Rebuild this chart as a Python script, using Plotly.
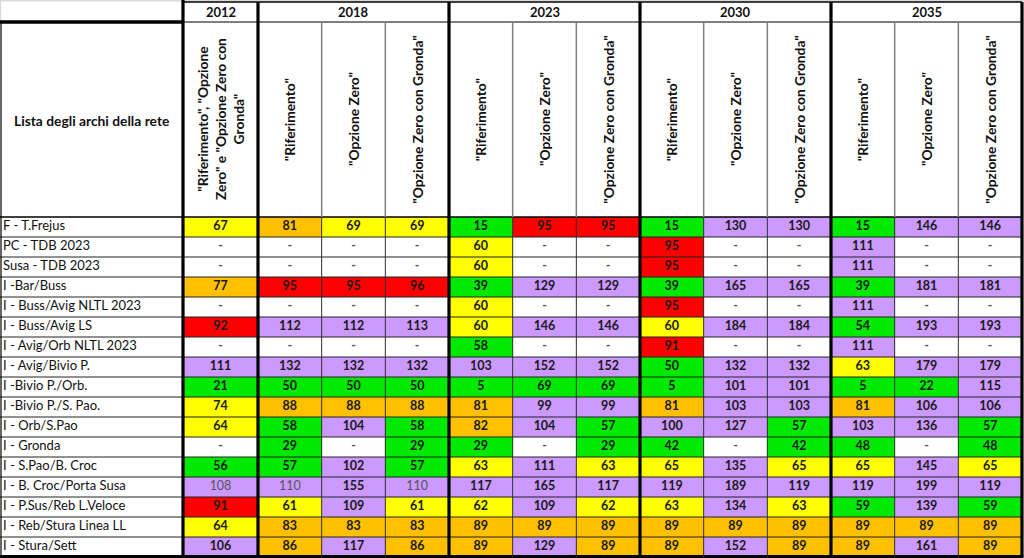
import plotly.graph_objects as go

# ---------------- data ----------------
years = ["2012", "2018", "2023", "2030", "2035"]
year_cols = [1, 3, 3, 3, 3]
sub_headers = [
    '"Riferimento", "Opzione<br>Zero" e "Opzione Zero con<br>Gronda"',
    '"Riferimento"', '"Opzione Zero"', '"Opzione Zero con Gronda"',
    '"Riferimento"', '"Opzione Zero"', '"Opzione Zero con Gronda"',
    '"Riferimento"', '"Opzione Zero"', '"Opzione Zero con Gronda"',
    '"Riferimento"', '"Opzione Zero"', '"Opzione Zero con Gronda"',
]
corner_label = "Lista degli archi della rete"

arcs = [
    "F - T.Frejus", "PC - TDB 2023", "Susa - TDB 2023", "I -Bar/Buss",
    "I - Buss/Avig NLTL 2023", "I - Buss/Avig LS", "I - Avig/Orb NLTL 2023",
    "I - Avig/Bivio P.", "I -Bivio P./Orb.", "I -Bivio P./S. Pao.",
    "I - Orb/S.Pao", "I - Gronda", "I - S.Pao/B. Croc",
    "I - B. Croc/Porta Susa", "I - P.Sus/Reb L.Veloce",
    "I - Reb/Stura Linea LL", "I - Stura/Sett",
]

D = None  # "-"
values = [
    [67, 81, 69, 69, 15, 95, 95, 15, 130, 130, 15, 146, 146],
    [D, D, D, D, 60, D, D, 95, D, D, 111, D, D],
    [D, D, D, D, 60, D, D, 95, D, D, 111, D, D],
    [77, 95, 95, 96, 39, 129, 129, 39, 165, 165, 39, 181, 181],
    [D, D, D, D, 60, D, D, 95, D, D, 111, D, D],
    [92, 112, 112, 113, 60, 146, 146, 60, 184, 184, 54, 193, 193],
    [D, D, D, D, 58, D, D, 91, D, D, 111, D, D],
    [111, 132, 132, 132, 103, 152, 152, 50, 132, 132, 63, 179, 179],
    [21, 50, 50, 50, 5, 69, 69, 5, 101, 101, 5, 22, 115],
    [74, 88, 88, 88, 81, 99, 99, 81, 103, 103, 81, 106, 106],
    [64, 58, 104, 58, 82, 104, 57, 100, 127, 57, 103, 136, 57],
    [D, 29, D, 29, 29, D, 29, 42, D, 42, 48, D, 48],
    [56, 57, 102, 57, 63, 111, 63, 65, 135, 65, 65, 145, 65],
    [108, 110, 155, 110, 117, 165, 117, 119, 189, 119, 119, 199, 119],
    [91, 61, 109, 61, 62, 109, 62, 63, 134, 63, 59, 139, 59],
    [64, 83, 83, 83, 89, 89, 89, 89, 89, 89, 89, 89, 89],
    [106, 86, 117, 86, 89, 129, 89, 89, 152, 89, 89, 161, 89],
]

# cell colour classes: G green, Y yellow, O orange, R red, P lilac, W white
classes = [
    "YOYYGRRGPPGPP",
    "WWWWYWWRWWPWW",
    "WWWWYWWRWWPWW",
    "ORRRGPPGPPGPP",
    "WWWWYWWRWWPWW",
    "RPPPYPPYPPGPP",
    "WWWWGWWRWWPWW",
    "PPPPPPPGPPYPP",
    "GGGGGGGGPPGGP",
    "YOOOOPPOPPOPP",
    "YGPGOPGPPGPPG",
    "WGWGGWGGWGGWG",
    "GGPGYPYYPYYPY",
    "PPPPPPPPPPPPP",
    "RYPYYPYYPYGPG",
    "YOOOOOOOOOOOO",
    "POPOOPOOPOOPO",
]
# cells printed in a lighter (non bold) style
light_cells = [(13, 0), (13, 1), (13, 3)]

# ---------------- layout geometry ----------------
W, H = 1024, 558
LABEL_W = 183
FIRST_W = 75
RIGHT = 1022
TOP = 2
HEAD1 = 22
HEAD2 = 217
ROW_H = 20

ncols = len(sub_headers)
sub_w = (RIGHT - LABEL_W - FIRST_W) / (ncols - 1)
xe = [LABEL_W, LABEL_W + FIRST_W]
for i in range(ncols - 1):
    xe.append(xe[-1] + sub_w)
nrows = len(arcs)
ye = [HEAD2 + ROW_H * i for i in range(nrows + 1)]
BOTTOM = ye[-1]
xc = [(xe[i] + xe[i + 1]) / 2 for i in range(ncols)]
yc = [(ye[i] + ye[i + 1]) / 2 for i in range(nrows)]

code = {"G": 0, "Y": 1, "O": 2, "R": 3, "P": 4, "W": None}
z = [[code[c] for c in row] for row in classes]
palette = ["#00EA00", "#FFFF00", "#FFC000", "#FF0000", "#CC99FF"]
cs = []
for i, col in enumerate(palette):
    cs.append([i / 5, col])
    cs.append([(i + 1) / 5, col])

FONT = "Lato"
fig = go.Figure()
fig.add_trace(go.Heatmap(
    x=xe, y=ye, z=z, colorscale=cs, zmin=-0.5, zmax=4.5,
    showscale=False, hoverinfo="skip",
))

# cell texts
tx, ty, tt, tcol, tw = [], [], [], [], []
for r in range(nrows):
    for c in range(ncols):
        v = values[r][c]
        tx.append(xc[c])
        ty.append(yc[r])
        if v is None:
            tt.append("-")
            tcol.append("#555555")
            tw.append("bold")
        elif (r, c) in light_cells:
            tt.append(str(v))
            tcol.append("#555555")
            tw.append("normal")
        else:
            tt.append(str(v))
            tcol.append("#1a1a1a")
            tw.append("bold")
fig.add_trace(go.Scatter(
    x=tx, y=ty, text=tt, mode="text", hoverinfo="skip",
    textfont=dict(family=FONT, size=12.5, color=tcol, weight=tw),
))

# row labels
fig.add_trace(go.Scatter(
    x=[3] * nrows, y=yc, text=arcs, mode="text", textposition="middle right",
    hoverinfo="skip", textfont=dict(family=FONT, size=13, color="#111111"),
))

shapes = []
def line(x0, y0, x1, y1, w, color="black"):
    shapes.append(dict(type="line", xref="x", yref="y", x0=x0, y0=y0, x1=x1, y1=y1,
                       line=dict(color=color, width=w)))

# light gray frame at top-left
shapes.append(dict(type="rect", xref="x", yref="y", x0=0, y0=0, x1=W, y1=1.5,
                   fillcolor="#D9D9D9", line=dict(width=0)))
shapes.append(dict(type="rect", xref="x", yref="y", x0=0, y0=0, x1=1.2, y1=HEAD1,
                   fillcolor="#D9D9D9", line=dict(width=0)))

# horizontal lines
for y in ye[1:-1]:
    line(0, y, RIGHT, y, 1, "#222222")
line(0, HEAD2, RIGHT, HEAD2, 1.5)
line(LABEL_W, TOP, RIGHT, TOP, 1.5)
line(LABEL_W, HEAD1, RIGHT, HEAD1, 1)
line(0, HEAD1, LABEL_W, HEAD1, 3.5)
line(0, BOTTOM - 0.5, RIGHT + 1.5, BOTTOM - 0.5, 3)
line(1, HEAD1, 1, BOTTOM, 1.2)

# vertical lines
group_edges = [0]
for n in year_cols:
    group_edges.append(group_edges[-1] + n)
for i in range(ncols + 1):
    if i in group_edges:
        continue
    line(xe[i], HEAD1, xe[i], HEAD2, 1.5, "#808080")
    line(xe[i], HEAD2, xe[i], BOTTOM, 1, "#303030")
for i in group_edges:
    line(xe[i], 0 if i == 0 else TOP, xe[i], BOTTOM, 3.2)

annotations = []
# year headers
for g, yr in enumerate(years):
    x0, x1 = xe[group_edges[g]], xe[group_edges[g + 1]]
    annotations.append(dict(x=(x0 + x1) / 2, y=(TOP + HEAD1) / 2, xref="x", yref="y",
                            text=yr, showarrow=False,
                            font=dict(family=FONT, size=13, color="#111111", weight="bold")))
# sub headers (rotated)
for c, txt in enumerate(sub_headers):
    annotations.append(dict(x=xc[c], y=(HEAD1 + HEAD2) / 2, xref="x", yref="y",
                            text=txt, showarrow=False, textangle=-90,
                            font=dict(family=FONT, size=13.8, color="#111111", weight="bold")))
annotations.append(dict(x=LABEL_W / 2, y=(HEAD1 + HEAD2) / 2 + 1, xref="x", yref="y",
                        text=corner_label, showarrow=False,
                        font=dict(family=FONT, size=13.8, color="#111111", weight="bold")))

fig.update_layout(
    width=W, height=H, autosize=False,
    margin=dict(l=0, r=0, t=0, b=0),
    paper_bgcolor="white", plot_bgcolor="white",
    showlegend=False, shapes=shapes, annotations=annotations,
    xaxis=dict(range=[0, W], visible=False, fixedrange=True),
    yaxis=dict(range=[H, 0], visible=False, fixedrange=True),
)
fig.write_html(
    "out.html",
    config={"displayModeBar": False},
    post_script="document.body.style.margin='0';document.body.style.overflow='hidden';",
)
